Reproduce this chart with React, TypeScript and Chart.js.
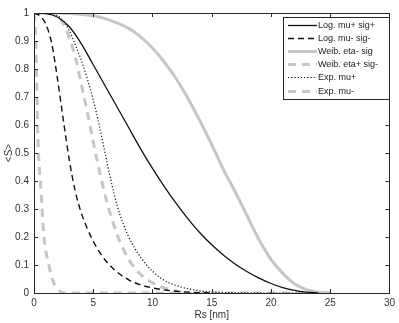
import React, { useEffect, useRef } from 'react';
import { Chart, registerables } from 'chart.js';
Chart.register(...registerables);

const xTicks = [0, 5, 10, 15, 20, 25, 30];
const yTicks = [0, 0.1, 0.2, 0.3, 0.4, 0.5, 0.6, 0.7, 0.8, 0.9, 1];
const xLabel = 'Rs [nm]';
const yLabel = '<S>';

const seriesNames = ['Log. mu+ sig+', 'Log. mu- sig-', 'Weib. eta- sig', 'Weib. eta+ sig-', 'Exp. mu+', 'Exp. mu-'];

const logPlusX = [0, 1, 2, 3, 4, 5, 6, 7, 8, 9, 10, 11, 12, 13, 14, 15, 16, 17, 18, 19, 20, 21, 22, 23, 24];
const logPlusY = [1, 0.998, 0.985, 0.95, 0.89, 0.815, 0.74, 0.665, 0.59, 0.515, 0.445, 0.38, 0.32, 0.265, 0.215, 0.172, 0.135, 0.103, 0.076, 0.053, 0.034, 0.019, 0.009, 0.003, 0];

const logMinusX = [0, 0.5, 1, 1.5, 2, 2.5, 3, 3.5, 4, 4.5, 5, 5.5, 6, 7, 8, 9, 10, 11, 12, 13, 15];
const logMinusY = [1, 0.99, 0.96, 0.89, 0.76, 0.61, 0.47, 0.36, 0.285, 0.23, 0.185, 0.148, 0.118, 0.075, 0.047, 0.029, 0.018, 0.011, 0.006, 0.003, 0];

const weibMinusX = [0, 2, 3, 4, 5, 6, 7, 8, 9, 10, 11, 12, 13, 14, 15, 16, 17, 18, 19, 20, 21, 22, 23, 24, 25];
const weibMinusY = [1, 1, 0.998, 0.995, 0.99, 0.98, 0.965, 0.945, 0.915, 0.875, 0.825, 0.765, 0.695, 0.615, 0.53, 0.44, 0.36, 0.275, 0.19, 0.12, 0.07, 0.032, 0.012, 0.003, 0];

const weibPlusX = [0, 1, 2, 2.5, 3, 3.5, 4, 4.5, 5, 5.5, 6, 6.5, 7, 7.5, 8, 8.5, 9, 10, 11, 12, 13];
const weibPlusY = [1, 1, 0.99, 0.96, 0.91, 0.84, 0.745, 0.645, 0.54, 0.44, 0.35, 0.275, 0.21, 0.16, 0.12, 0.09, 0.066, 0.036, 0.018, 0.007, 0];

const expPlusX = [0, 1, 2, 2.5, 3, 3.5, 4, 4.5, 5, 5.5, 6, 6.5, 7, 7.5, 8, 8.5, 9, 9.5, 10, 11, 12, 13, 14, 15, 16, 18, 20, 25];
const expPlusY = [1, 1, 0.99, 0.97, 0.935, 0.885, 0.83, 0.765, 0.69, 0.6, 0.5, 0.4, 0.315, 0.25, 0.2, 0.16, 0.128, 0.1, 0.078, 0.045, 0.027, 0.015, 0.008, 0.004, 0.002, 0.0005, 0, 0];

const expMinusX = [0, 0.1, 0.2, 0.3, 0.4, 0.5, 0.6, 0.8, 1, 1.2, 1.5, 1.8, 2.2, 2.5, 25];
const expMinusY = [1, 0.95, 0.82, 0.6, 0.48, 0.42, 0.36, 0.22, 0.15, 0.11, 0.055, 0.025, 0.006, 0, 0];

const FONT = '"Liberation Sans", Arial, sans-serif';
const GREY = '#c6c6c6';

const pts = (xs: number[], ys: number[]) => xs.map((x, i) => ({ x, y: ys[i] }));

const framePlugin = {
  id: 'frameTicks',
  afterDatasetsDraw(chart: any) {
    const { ctx, chartArea: a, scales } = chart;
    ctx.save();
    ctx.strokeStyle = '#262626';
    ctx.lineWidth = 1;
    ctx.strokeRect(Math.round(a.left) + 0.5, Math.round(a.top) + 0.5, Math.round(a.right - a.left), Math.round(a.bottom - a.top));
    const tl = 4;
    ctx.beginPath();
    for (const v of xTicks) {
      const x = Math.round(scales.x.getPixelForValue(v)) + 0.5;
      ctx.moveTo(x, a.bottom); ctx.lineTo(x, a.bottom - tl);
      ctx.moveTo(x, a.top); ctx.lineTo(x, a.top + tl);
    }
    for (const v of yTicks) {
      const y = Math.round(scales.y.getPixelForValue(v)) + 0.5;
      ctx.moveTo(a.left, y); ctx.lineTo(a.left + tl, y);
      ctx.moveTo(a.right, y); ctx.lineTo(a.right - tl, y);
    }
    ctx.stroke();
    ctx.restore();
  },
};

const legendPlugin = {
  id: 'boxLegend',
  afterDraw(chart: any) {
    const { ctx, chartArea: a } = chart;
    const right = Math.round(a.right);
    const left = right - 106;
    const top = Math.round(a.top) + 4;
    const rowH = 13.1;
    const h = 82;
    ctx.save();
    ctx.fillStyle = '#fff';
    ctx.fillRect(left, top, right - left, h);
    ctx.strokeStyle = '#262626';
    ctx.lineWidth = 1;
    ctx.strokeRect(left + 0.5, top + 0.5, right - left, h);
    ctx.font = `9px ${FONT}`;
    ctx.textBaseline = 'middle';
    chart.data.datasets.forEach((ds: any, i: number) => {
      const y = Math.round(top + 8 + i * rowH) + 0.5;
      ctx.save();
      ctx.strokeStyle = ds.borderColor;
      ctx.lineWidth = ds.borderWidth;
      ctx.setLineDash(ds.borderDash || []);
      ctx.beginPath();
      ctx.moveTo(left + 5, y);
      ctx.lineTo(left + 34, y);
      ctx.stroke();
      ctx.restore();
      ctx.fillStyle = '#222';
      ctx.fillText(ds.label, left + 35, y);
    });
    ctx.restore();
  },
};

export default function App() {
  const ref = useRef<HTMLCanvasElement>(null);
  useEffect(() => {
    if (!ref.current) return;
    const chart = new Chart(ref.current, {
      type: 'line',
      data: {
        datasets: [
          { label: seriesNames[0], data: pts(logPlusX, logPlusY), borderColor: '#111', borderWidth: 1.3 },
          { label: seriesNames[1], data: pts(logMinusX, logMinusY), borderColor: '#111', borderWidth: 1.4, borderDash: [6, 4] },
          { label: seriesNames[2], data: pts(weibMinusX, weibMinusY), borderColor: GREY, borderWidth: 3 },
          { label: seriesNames[3], data: pts(weibPlusX, weibPlusY), borderColor: GREY, borderWidth: 3, borderDash: [8, 6] },
          { label: seriesNames[4], data: pts(expPlusX, expPlusY), borderColor: '#111', borderWidth: 1.2, borderDash: [1.2, 2] },
          { label: seriesNames[5], data: pts(expMinusX, expMinusY), borderColor: GREY, borderWidth: 3, borderDash: [8, 6] },
        ].map((d) => ({ ...d, pointRadius: 0, fill: false, cubicInterpolationMode: 'monotone' as const })),
      },
      options: {
        responsive: false,
        animation: false,
        events: [],
        layout: { padding: { top: 13, right: 3, left: 0, bottom: 0 } },
        plugins: { legend: { display: false }, tooltip: { enabled: false } },
        scales: {
          x: {
            type: 'linear', min: 0, max: 30,
            afterBuildTicks: (s: any) => { s.ticks = xTicks.map((v) => ({ value: v })); },
            afterFit: (s: any) => { s.height = 30; },
            grid: { display: false, drawTicks: false },
            border: { display: false },
            ticks: { padding: 4, color: '#333', font: { family: FONT, size: 10 }, maxRotation: 0 },
            title: { display: true, text: xLabel, color: '#333', font: { family: FONT, size: 10 }, padding: { top: 0, bottom: 2 } },
          },
          y: {
            type: 'linear', min: 0, max: 1,
            afterBuildTicks: (s: any) => { s.ticks = yTicks.map((v) => ({ value: v })); },
            afterFit: (s: any) => { s.width = 34; },
            grid: { display: false, drawTicks: false },
            border: { display: false },
            ticks: { padding: 5, color: '#333', font: { family: FONT, size: 10 }, callback: (v: any) => String(Math.round(v * 10) / 10) },
            title: { display: true, text: yLabel, color: '#333', font: { family: FONT, size: 10 }, padding: { top: 3, bottom: 0 } },
          },
        },
      },
      plugins: [framePlugin, legendPlugin],
    } as any);
    return () => chart.destroy();
  }, []);
  return (
    <div style={{ position: 'fixed', left: 0, top: 0, width: 399, height: 323, background: '#fff' }}>
      <canvas ref={ref} width={399} height={323} style={{ width: 399, height: 323, display: 'block' }} />
    </div>
  );
}
